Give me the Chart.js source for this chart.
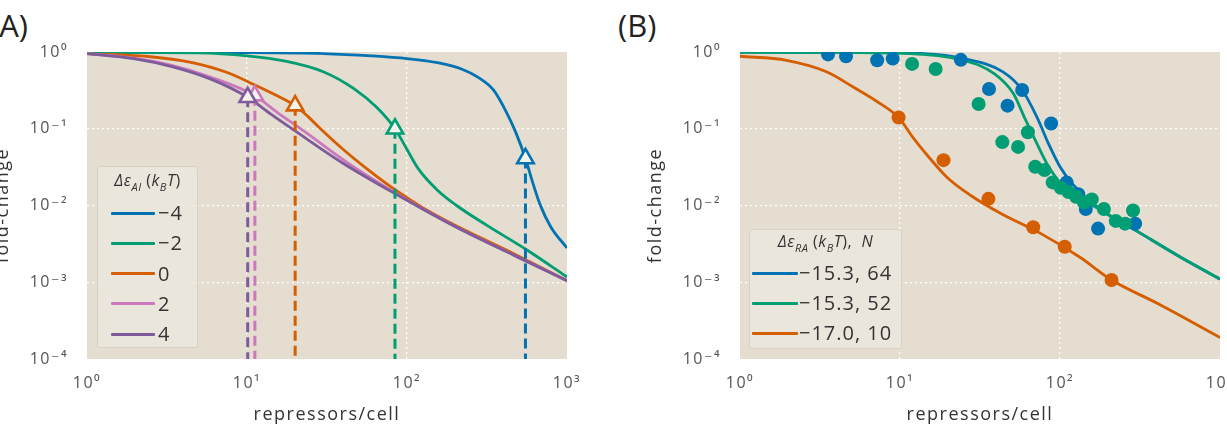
<!DOCTYPE html>
<html lang="en">
<head>
<meta charset="UTF-8">
<title>Fold-change vs repressors per cell</title>
<script src="https://cdn.jsdelivr.net/npm/chart.js@4"></script>
<style>
    body {
        margin: 0;
        width: 1227px;
        height: 438px;
        overflow: hidden;
        position: relative;
        background: #fff;
        font-family: 'Open Sans', sans-serif;
        color: #333;
    }

    canvas {
        position: absolute;
        top: 0;
    }

    #chart-a { left: -13px; }
    #chart-b { left: 640px; }

    .panel-label {
        position: absolute;
        top: 10px;
        font-size: 31px;
        line-height: 1;
        color: #222;
    }

    .legend {
        position: absolute;
        background: rgba(236, 231, 222, 0.85);
        border: 1px solid #d7d0c3;
        border-radius: 3px;
        box-sizing: border-box;
    }

    .legend .ttl {
        position: absolute;
        left: 0;
        right: 0;
        text-align: center;
        font-size: 16px;
        letter-spacing: 0.5px;
        line-height: 1;
        transform: translateY(-50%);
        white-space: nowrap;
    }

    .legend .ttl sub { font-size: 11px; }

    .legend .row {
        position: absolute;
        height: 0;
    }

    .legend .swatch {
        position: absolute;
        top: -1.5px;
        height: 3px;
        border-radius: 1px;
    }

    .legend .lbl {
        position: absolute;
        font-size: 20px;
        letter-spacing: 1px;
        line-height: 1;
        transform: translateY(-52%);
        white-space: nowrap;
    }
</style>
</head>
<body>
<div class="panel-label" style="left:-10px">(A)</div>
<div class="panel-label" style="left:618px">(B)</div>
<canvas id="chart-a" width="610" height="438"></canvas>
<canvas id="chart-b" width="610" height="438"></canvas>
<div class="legend" id="legend-a" style="left:97px; top:166px; width:101px; height:182px">
    <div class="ttl" style="top:15px"><i>Δε</i><sub><i>AI</i></sub> (<i>k</i><sub><i>B</i></sub><i>T</i>)</div>
</div>
<div class="legend" id="legend-b" style="left:749px; top:229px; width:153px; height:120px">
    <div class="ttl" style="top:13px"><i>Δε</i><sub><i>RA</i></sub> (<i>k</i><sub><i>B</i></sub><i>T</i>), &nbsp;<i>N</i></div>
</div>

<script>
    // ---- panel A: theory curves for several allosteric energies ----
    const labelsA = ['−4', '−2', '0', '2', '4'];
    const colorsA = ['#0173B2', '#029E73', '#D55E00', '#CC78BC', '#7E5C9C'];

    const repA_m4 = [1, 10, 30, 60, 100, 158, 219, 282, 347, 417, 479, 550, 610, 676, 794, 1000];
    const foldA_m4 = [0.99, 0.982, 0.955, 0.89, 0.82, 0.72, 0.6, 0.46, 0.32, 0.166, 0.089, 0.041, 0.02, 0.0105, 0.0052, 0.0028];

    const repA_m2 = [1, 5, 10, 17.4, 30.2, 46.8, 64.6, 84.1, 100, 117.5, 155, 204, 316, 562, 1000];
    const foldA_m2 = [0.989, 0.973, 0.891, 0.759, 0.55, 0.331, 0.19, 0.1, 0.0537, 0.0302, 0.0158, 0.01, 0.0055, 0.00263, 0.00117];

    const repA_0 = [1, 2.57, 4.47, 7.59, 11.2, 15.1, 20, 24, 28.8, 39.8, 56.2, 85, 126, 204, 468, 1000];
    const foldA_0 = [0.955, 0.861, 0.733, 0.537, 0.372, 0.275, 0.2, 0.145, 0.1, 0.054, 0.03, 0.0158, 0.0093, 0.0054, 0.00234, 0.00105];

    const repA_2 = [1, 1.95, 3.39, 5.89, 11.2, 15.5, 22.4, 41.7, 85, 204, 468, 1000];
    const foldA_2 = [0.955, 0.83, 0.668, 0.473, 0.27, 0.162, 0.095, 0.037, 0.0145, 0.0052, 0.00224, 0.00105];

    const repA_4 = [1, 1.95, 3.39, 5.89, 10.1, 14.1, 20.4, 39.8, 85, 204, 468, 1000];
    const foldA_4 = [0.955, 0.82, 0.646, 0.447, 0.257, 0.155, 0.091, 0.0355, 0.0141, 0.0052, 0.00224, 0.00105];

    // triangle markers (and dashed drop lines) for each curve, same order as labelsA
    const markerRepA = [550, 84.1, 20, 11.2, 10.1];
    const markerFoldA = [0.041, 0.1, 0.2, 0.27, 0.257];

    // ---- panel B: fits and measurements ----
    const labelsB = ['−15.3, 64', '−15.3, 52', '−17.0, 10'];
    const colorsB = ['#0173B2', '#029E73', '#D55E00'];

    const repB_64 = [1, 5, 14, 25, 44, 58, 72, 85, 100, 120, 178, 310, 550, 1000];
    const foldB_64 = [0.995, 0.99, 0.955, 0.82, 0.55, 0.32, 0.14, 0.063, 0.032, 0.019, 0.009, 0.0045, 0.0022, 0.0011];

    const repB_52 = [1, 5, 14, 25, 39, 51, 60, 72, 85, 107, 178, 310, 550, 1000];
    const foldB_52 = [0.99, 0.985, 0.93, 0.78, 0.52, 0.29, 0.14, 0.063, 0.032, 0.017, 0.0088, 0.0045, 0.0022, 0.0011];

    const repB_10 = [1, 1.95, 3.5, 5.1, 7.1, 9.8, 12, 14, 19.8, 27.7, 43, 76, 134, 210, 414, 1000];
    const foldB_10 = [0.88, 0.78, 0.55, 0.35, 0.23, 0.14, 0.078, 0.052, 0.023, 0.0135, 0.0078, 0.0043, 0.0021, 0.00107, 0.00052, 0.00019];

    const dotRepB_64 = [3.55, 4.6, 7.2, 9, 24, 36, 47, 58, 88, 110, 130, 145, 173, 295];
    const dotFoldB_64 = [0.93, 0.88, 0.78, 0.82, 0.79, 0.33, 0.2, 0.32, 0.117, 0.02, 0.014, 0.009, 0.005, 0.0058];

    const dotRepB_52 = [11.9, 16.7, 31, 43.6, 54.7, 63, 70, 80, 90, 101, 113, 126, 141, 158, 188, 223, 255, 286];
    const dotFoldB_52 = [0.7, 0.6, 0.21, 0.067, 0.058, 0.09, 0.032, 0.029, 0.02, 0.017, 0.015, 0.013, 0.011, 0.012, 0.009, 0.0063, 0.0058, 0.0086];

    const dotRepB_10 = [9.8, 18.7, 35.7, 68, 107, 210];
    const dotFoldB_10 = [0.14, 0.039, 0.0122, 0.0052, 0.0029, 0.00107];

    const xTicks = [1, 10, 100, 1000];
    const yTicks = [1e-4, 1e-3, 1e-2, 1e-1, 1];

    const plotBg = '#E4DDD0';
    const sup = { '-': '⁻', '0': '⁰', '1': '¹', '2': '²', '3': '³', '4': '⁴' };

    function toPoints(xs, ys) {
        return xs.map((x, i) => ({ x: x, y: ys[i] }));
    }

    function powerLabel(v) {
        const e = String(Math.round(Math.log10(v)));
        return '10' + e.split('').map(c => sup[c]).join('');
    }

    const backgroundPlugin = {
        id: 'plotBackground',
        beforeDraw(chart) {
            const { ctx, chartArea: a } = chart;
            ctx.save();
            ctx.fillStyle = plotBg;
            ctx.fillRect(a.left, a.top, a.right - a.left, a.bottom - a.top);
            ctx.restore();
            ctx.letterSpacing = '1.5px';
        }
    };

    function logAxis(tickValues, title, isX) {
        const lo = tickValues[0];
        const hi = tickValues[tickValues.length - 1];
        return {
            type: 'logarithmic',
            min: lo,
            max: hi,
            afterBuildTicks: axis => {
                axis.ticks = tickValues.map(v => ({ value: v }));
            },
            afterFit: axis => {
                if (isX) axis.height = 79;
                else axis.width = 100;
            },
            grid: {
                drawTicks: false,
                lineWidth: 1.3,
                color: c => (c.tick && (c.tick.value === lo || c.tick.value === hi)) ? 'rgba(0,0,0,0)' : '#ffffff'
            },
            border: { display: false, dash: [2, 3] },
            ticks: {
                autoSkip: false,
                maxRotation: 0,
                padding: isX ? 15 : 19,
                color: '#555',
                font: { family: "'Open Sans', 'DejaVu Sans', sans-serif", size: 16 },
                callback: v => powerLabel(v)
            },
            title: {
                display: true,
                text: title,
                color: '#333',
                font: { family: "'Open Sans', sans-serif", size: 18 },
                padding: isX ? { top: 0, bottom: 12 } : { top: 5, bottom: 0 }
            }
        };
    }

    function baseOptions() {
        return {
            responsive: false,
            animation: false,
            events: [],
            layout: { padding: { left: 0, top: 52, right: 30, bottom: 0 }, autoPadding: false },
            plugins: { legend: { display: false }, tooltip: { enabled: false } },
            scales: {
                x: logAxis(xTicks, 'repressors/cell', true),
                y: logAxis(yTicks, 'fold-change', false)
            }
        };
    }

    function curve(xs, ys, color, order) {
        return {
            data: toPoints(xs, ys),
            borderColor: color,
            borderWidth: 2.8,
            pointRadius: 0,
            fill: false,
            cubicInterpolationMode: 'monotone',
            order: order
        };
    }

    function dots(xs, ys, color, order) {
        return {
            data: toPoints(xs, ys),
            showLine: false,
            pointRadius: 7,
            pointBorderWidth: 0,
            pointBackgroundColor: color,
            pointBorderColor: color,
            order: order
        };
    }

    // panel A datasets
    const curvesA = [
        [repA_m4, foldA_m4], [repA_m2, foldA_m2], [repA_0, foldA_0], [repA_2, foldA_2], [repA_4, foldA_4]
    ];
    const datasetsA = curvesA.map((c, i) => curve(c[0], c[1], colorsA[i], 5 - i));

    markerRepA.forEach((r, i) => {
        datasetsA.push({
            data: [{ x: r, y: markerFoldA[i] }, { x: r, y: yTicks[0] }],
            borderColor: colorsA[i],
            borderWidth: 3,
            borderDash: [10, 5],
            pointRadius: 0,
            fill: false,
            order: 0.5
        });
    });

    datasetsA.push({
        data: toPoints(markerRepA, markerFoldA),
        showLine: false,
        pointStyle: 'triangle',
        pointRadius: 9.5,
        pointBorderWidth: 2.6,
        pointBackgroundColor: '#f6f3ee',
        pointBorderColor: colorsA,
        order: 0
    });

    new Chart(document.getElementById('chart-a'), {
        type: 'line',
        data: { datasets: datasetsA },
        options: baseOptions(),
        plugins: [backgroundPlugin]
    });

    // panel B datasets
    const datasetsB = [
        curve(repB_64, foldB_64, colorsB[0], 4),
        curve(repB_52, foldB_52, colorsB[1], 3),
        curve(repB_10, foldB_10, colorsB[2], 5),
        dots(dotRepB_64, dotFoldB_64, colorsB[0], 2),
        dots(dotRepB_52, dotFoldB_52, colorsB[1], 1),
        dots(dotRepB_10, dotFoldB_10, colorsB[2], 0)
    ];

    new Chart(document.getElementById('chart-b'), {
        type: 'line',
        data: { datasets: datasetsB },
        options: baseOptions(),
        plugins: [backgroundPlugin]
    });

    // html legends built from the same labels/colours
    function fillLegend(id, labels, colors, firstY, stepY, lineLeft, lineWidth, labelLeft) {
        const box = document.getElementById(id);
        labels.forEach((txt, i) => {
            const row = document.createElement('div');
            row.className = 'row';
            row.style.top = (firstY + i * stepY) + 'px';
            row.style.left = '0px';
            const sw = document.createElement('div');
            sw.className = 'swatch';
            sw.style.left = lineLeft + 'px';
            sw.style.width = lineWidth + 'px';
            sw.style.background = colors[i];
            const lb = document.createElement('div');
            lb.className = 'lbl';
            lb.style.left = labelLeft + 'px';
            lb.textContent = txt;
            row.appendChild(sw);
            row.appendChild(lb);
            box.appendChild(row);
        });
    }

    fillLegend('legend-a', labelsA, colorsA, 46, 30.3, 13, 44, 60);
    fillLegend('legend-b', labelsB, colorsB, 43, 30, 2, 46, 49);
</script>
</body>
</html>
